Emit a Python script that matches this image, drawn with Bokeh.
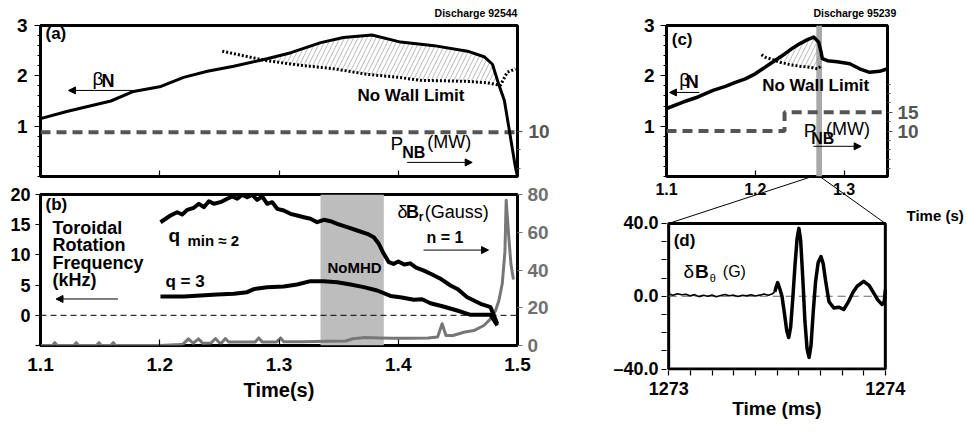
from bokeh.plotting import figure
from bokeh.models import (Range1d, LinearAxis, FixedTicker, CustomJSTickFormatter,
                          Label, Arrow, NormalHead, GridBox, Span, BoxAnnotation)
from bokeh.layouts import column
from bokeh.embed import file_html
from bokeh.resources import INLINE

FONT = "Liberation Sans"

# ---------------- data ----------------
# (a) discharge 92544
a_bn_t = [1.100, 1.122, 1.159, 1.178, 1.201, 1.220, 1.240, 1.262, 1.290, 1.310, 1.335, 1.354,
          1.378, 1.402, 1.430, 1.458, 1.472, 1.479, 1.484, 1.489, 1.4983, 1.500]
a_bn_v = [1.15, 1.29, 1.50, 1.69, 1.79, 1.97, 2.09, 2.19, 2.34, 2.46, 2.66, 2.76,
          2.81, 2.67, 2.60, 2.49, 2.38, 2.23, 1.85, 1.51, 0.18, 0.0]
a_nw_t = [1.2524, 1.270, 1.290, 1.318, 1.346, 1.374, 1.400, 1.419, 1.440, 1.458, 1.475,
          1.4857, 1.4913, 1.4983]
a_nw_v = [2.49, 2.40, 2.30, 2.21, 2.14, 2.03, 1.97, 1.91, 1.90, 1.89, 1.86, 1.81, 2.07, 2.14]
a_pnb_t = [1.100, 1.500]
a_pnb_v = [9.7, 9.7]

# (b) rotation (kHz) and dB_r (Gauss)
qmin_t = [1.2006, 1.2090, 1.2146, 1.2188, 1.2230, 1.2286, 1.2328, 1.2370, 1.2412, 1.2454,
          1.2509, 1.2566, 1.2608, 1.2650, 1.2691, 1.2733, 1.2775, 1.2817, 1.2859, 1.2901,
          1.2943, 1.2985, 1.3040, 1.3096, 1.3152, 1.3208, 1.3264, 1.3320, 1.3376, 1.3432,
          1.3488, 1.3572, 1.3656, 1.3740, 1.3795, 1.3837, 1.3879, 1.3921, 1.3960, 1.4000,
          1.4050, 1.4100, 1.4150, 1.4215, 1.4280, 1.4350, 1.4438, 1.4500, 1.4578, 1.4630,
          1.4690, 1.4774, 1.4830]
qmin_v = [15.41, 16.52, 17.07, 16.69, 17.46, 17.80, 18.46, 17.90, 18.89, 18.46,
          18.73, 19.29, 19.67, 19.29, 19.95, 19.55, 19.95, 19.12, 19.67, 18.46,
          18.73, 17.63, 17.35, 16.80, 16.52, 16.24, 15.98, 15.41, 15.81, 15.58,
          15.15, 14.59, 14.04, 13.49, 12.93, 11.84, 10.18, 8.79, 8.50, 8.90,
          8.40, 8.60, 7.90, 7.40, 6.80, 6.10, 4.93, 4.30, 3.00, 2.50,
          1.90, 1.34, -1.40]
q3_t = [1.2006, 1.2202, 1.2342, 1.2482, 1.2621, 1.2733, 1.2789, 1.2901, 1.3040, 1.3152,
        1.3264, 1.3376, 1.3488, 1.3600, 1.3711, 1.3823, 1.3935, 1.4030, 1.4130, 1.4200,
        1.4270, 1.4370, 1.4494, 1.4606, 1.4774, 1.4830]
q3_v = [3.11, 3.11, 3.28, 3.44, 3.56, 3.83, 4.33, 4.66, 4.77, 5.10,
        5.65, 5.65, 5.48, 5.10, 4.66, 4.11, 3.20, 2.95, 2.57, 2.65,
        2.00, 1.50, 0.79, 0.08, 0.08, -1.69]
dbr_t = [1.100, 1.110, 1.112, 1.114, 1.128, 1.130, 1.132, 1.147, 1.149, 1.151, 1.159, 1.161,
         1.163, 1.200, 1.218, 1.220, 1.224, 1.228, 1.2325, 1.236, 1.243, 1.2467, 1.250, 1.252,
         1.255, 1.258, 1.270, 1.280, 1.283, 1.286, 1.298, 1.3013, 1.304, 1.320, 1.340, 1.356,
         1.362, 1.372, 1.385, 1.395, 1.410, 1.425, 1.433, 1.4368, 1.440, 1.446, 1.455, 1.4634,
         1.4718, 1.4774, 1.4816, 1.4844, 1.4872, 1.4895, 1.4905, 1.4915, 1.4930, 1.4945, 1.4966]
dbr_v = [0.0, 0.0, 1.5, 0.0, 0.0, 1.5, 0.0, 0.0, 1.5, 0.0, 0.0, 1.5,
         0.0, 0.0, 0.5, 1.0, 3.5, 1.2, 3.5, 1.2, 1.3, 3.7, 1.5, 1.5,
         3.7, 1.8, 1.8, 1.8, 4.0, 1.8, 1.9, 4.0, 2.0, 2.0, 2.2, 2.4,
         3.6, 4.2, 4.0, 3.8, 3.8, 4.0, 4.5, 11.5, 5.3, 5.3, 7.0, 7.9,
         10.6, 14.1, 18.5, 23.8, 32.7, 50.0, 77.0, 68.0, 55.0, 43.0, 35.0]
nomhd_t = [1.3348, 1.3879]

# (c) discharge 95239
c_bn_t = [1.100, 1.1187, 1.1355, 1.1524, 1.1664, 1.1776, 1.1888, 1.2000, 1.2084, 1.2168,
          1.2252, 1.2336, 1.2420, 1.2504, 1.2588, 1.2658, 1.2714, 1.2742, 1.2756, 1.2813,
          1.2924, 1.3065, 1.3176, 1.3288, 1.3401, 1.349]
c_bn_v = [1.35, 1.48, 1.58, 1.71, 1.79, 1.87, 1.94, 2.04, 2.14, 2.24,
          2.34, 2.44, 2.55, 2.64, 2.72, 2.77, 2.67, 2.47, 2.34, 2.30,
          2.28, 2.24, 2.14, 2.07, 2.09, 2.14]
c_nw_t = [1.207, 1.2112, 1.2168, 1.228, 1.2392, 1.2504, 1.2616, 1.270, 1.2742]
c_nw_v = [2.42, 2.37, 2.34, 2.27, 2.22, 2.19, 2.17, 2.14, 2.19]
c_pnb_t = [1.100, 1.233, 1.233, 1.349]
c_pnb_v = [10.0, 10.0, 15.0, 15.0]
zoom_t = [1.2688, 1.2752]   # 1273-1274 ms window

# (d) dB_theta (G) vs time (ms)
d_noise_t = [1273.000, 1273.020, 1273.040, 1273.060, 1273.080, 1273.100, 1273.120, 1273.140,
             1273.160, 1273.180, 1273.200, 1273.220, 1273.240, 1273.260, 1273.280, 1273.300,
             1273.320, 1273.340, 1273.360, 1273.380, 1273.400, 1273.420, 1273.440, 1273.460,
             1273.480, 1273.490]
d_noise_v = [1.3, 0.6, 1.4, 0.8, 1.1, 0.2, 0.9, -0.2, 0.5, 0.0, 0.7, -0.3, 0.4, 1.0, 0.3,
             0.6, -0.1, 0.5, 0.2, 0.8, 0.1, 0.6, 1.2, 0.5, 1.4, 2.5]
d_osc_t = [1273.490, 1273.497, 1273.503, 1273.512, 1273.523, 1273.535, 1273.545, 1273.554,
           1273.563, 1273.573, 1273.583, 1273.593, 1273.601, 1273.609, 1273.619, 1273.629,
           1273.639, 1273.648, 1273.657, 1273.667, 1273.678, 1273.690, 1273.703, 1273.713,
           1273.725, 1273.740, 1273.762, 1273.785, 1273.808, 1273.830, 1273.850, 1273.870,
           1273.900, 1273.925, 1273.946, 1273.965, 1273.985, 1273.995, 1274.000]
d_osc_v = [2.5, 5.5, 7.5, 4.5, 0.0, -10.0, -19.0, -22.7, -17.0, -1.0, 17.0, 32.0, 37.3, 31.0,
           10.0, -14.0, -29.0, -33.6, -27.0, -9.0, 8.0, 18.5, 21.8, 18.0, 8.0, -3.0, -6.4,
           -6.0, -7.3, -3.0, 2.0, 5.5, 8.2, 6.0, 1.8, -2.0, -4.5, -3.0, 3.6]

# axis ranges / ticks
T_RANGE = (1.1, 1.5)
C_T_RANGE = (1.1, 1.349)
BETA_RANGE = (0, 3)
PNB_RANGE = (-2.1, 38.06)
ROT_RANGE = (-5, 20)
DBR_RANGE = (0, 80)
D_T_RANGE = (1272.99, 1274.01)
D_Y_RANGE = (-40.8, 65.8)
D_T0, D_T1 = 1273.0, 1274.0
D_Y0, D_Y1 = -40.0, 40.0
beta_ticks = [1, 2, 3]
beta_minor = [0, 0.2, 0.4, 0.6, 0.8, 1.2, 1.4, 1.6, 1.8, 2.2, 2.4, 2.6, 2.8]
a_x_minor = [1.2, 1.3, 1.4]
rot_ticks = [0, 5, 10, 15, 20]
rot_minor = [-5]
dbr_ticks = [0, 20, 40, 60, 80]
d_y_ticks = [-40, 0, 40]
d_y_minor = [-30, -20, -10, 10, 20, 30]
d_x_ticks = [1273, 1274]
d_x_minor = [1273.1, 1273.2, 1273.3, 1273.4, 1273.5, 1273.6, 1273.7, 1273.8, 1273.9]
TS_Y = 44.4          # height of the "Time (s)" caption of (c), on the (d) scale
A_TAG_T = 1.4652     # centre of "Discharge 92544"
C_TAG_T = 1.3122     # centre of "Discharge 95239"


# ---------------- helpers ----------------
def make_fig(width, height, x_range, y_range, ml, mr, mt, mb, outline=True):
    p = figure(width=width, height=height, x_range=x_range, y_range=y_range,
               output_backend="svg", toolbar_location=None,
               min_border_left=ml, min_border_right=mr,
               min_border_top=mt, min_border_bottom=mb)
    p.grid.visible = False
    p.outline_line_color = "black" if outline else None
    p.outline_line_width = 3
    p.background_fill_color = None
    p.border_fill_color = None
    return p


def style_axis(ax, size="16px", color="black", tick_in=0, tick_out=5,
               minor_in=0, minor_out=3, standoff=5):
    ax.axis_line_color = None
    ax.major_label_text_font = FONT
    ax.major_label_text_font_size = size
    ax.major_label_text_font_style = "bold"
    ax.major_label_text_color = color
    ax.major_tick_line_color = color
    ax.minor_tick_line_color = color
    ax.major_tick_line_width = 1.2
    ax.minor_tick_line_width = 1.2
    ax.major_tick_in = tick_in
    ax.major_tick_out = tick_out
    ax.minor_tick_in = minor_in
    ax.minor_tick_out = minor_out
    ax.major_label_standoff = standoff
    ax.axis_label_text_font = FONT
    ax.axis_label_text_font_style = "bold"
    ax.axis_label_text_color = "black"


def caption_axis(p, where, tick, text, size, standoff):
    a = LinearAxis(ticker=FixedTicker(ticks=[tick]),
                   formatter=CustomJSTickFormatter(code="return %r;" % text))
    style_axis(a, size=size, tick_out=0, minor_out=0, standoff=standoff)
    a.major_tick_line_color = None
    a.minor_tick_line_color = None
    p.add_layout(a, where)


def lab(p, x, y, text, size=16, bold=False, color="black", align="left", rng="default"):
    p.add_layout(Label(x=x, y=y, text=text, y_range_name=rng,
                       text_font=FONT, text_font_size=f"{size}px",
                       text_font_style="bold" if bold else "normal",
                       text_color=color, text_align=align, text_baseline="middle"))


def arr(p, x0, x1, y, rng="default"):
    p.add_layout(Arrow(end=NormalHead(size=7, fill_color="black", line_color="black", line_width=1),
                       x_start=x0, y_start=y, x_end=x1, y_end=y, line_width=1,
                       line_color="black", y_range_name=rng))


def hatch_poly(bt, bv, lt, lv, lo, hi):
    top = [(t, v) for t, v in zip(bt, bv) if lo <= t <= hi]
    bot = [(t, v) for t, v in zip(lt, lv) if lo <= t <= hi][::-1]
    pts = top + bot
    return [q[0] for q in pts], [q[1] for q in pts]


# ---------------- (a) ----------------
fa = make_fig(560, 185, T_RANGE, BETA_RANGE, ml=40, mr=43, mt=25, mb=9)
fa.extra_y_ranges = {"pnb": Range1d(*PNB_RANGE)}
ax = fa.below[0]
style_axis(ax, size="14px", tick_in=6, tick_out=0, minor_in=6, minor_out=0, standoff=0)
ax.ticker = FixedTicker(ticks=[], minor_ticks=a_x_minor)
ay = fa.left[0]
style_axis(ay, size="19px", tick_out=6, minor_out=3, standoff=7)
ay.ticker = FixedTicker(ticks=beta_ticks, minor_ticks=beta_minor)
ra = LinearAxis(y_range_name="pnb", ticker=FixedTicker(ticks=[10], minor_ticks=[0, 5]))
style_axis(ra, size="19px", color="#555555", tick_out=5, minor_out=3, standoff=6)
fa.add_layout(ra, "right")
caption_axis(fa, "above", A_TAG_T, "Discharge 92544", "10.5px", 7)

hx, hy = hatch_poly(a_bn_t, a_bn_v, a_nw_t, a_nw_v, 1.288, 1.4858)
fa.patch(hx, hy, fill_color=None, line_color=None, hatch_pattern="/",
         hatch_color="#8a8a8a", hatch_weight=0.6, hatch_scale=9)
fa.line(a_pnb_t, a_pnb_v, y_range_name="pnb", line_color="#555555", line_width=4,
        line_dash="10 6")
fa.line(a_nw_t, a_nw_v, line_color="black", line_width=3, line_dash="2 2")
fa.line(a_bn_t, a_bn_v, line_color="black", line_width=3, line_join="round")

lab(fa, 1.1042, 2.84, "(a)", size=17, bold=True)
lab(fa, 1.1436, 1.95, "β", size=19)
lab(fa, 1.1512, 1.89, "N", size=18, bold=True)
arr(fa, 1.1772, 1.1235, 1.71)
lab(fa, 1.3658, 1.61, "No Wall Limit", size=17, bold=True)
lab(fa, 1.3935, 0.65, "P", size=19)
lab(fa, 1.4033, 0.48, "NB", size=16, bold=True)
lab(fa, 1.4244, 0.68, "(MW)", size=18)
arr(fa, 1.4075, 1.4620, 0.28)

# ---------------- (b) ----------------
fb = make_fig(560, 236, T_RANGE, ROT_RANGE, ml=40, mr=43, mt=9, mb=76)
fb.extra_y_ranges = {"dbr": Range1d(*DBR_RANGE)}
bx = fb.below[0]
style_axis(bx, size="19px", tick_in=6, tick_out=0, standoff=12)
bx.ticker = FixedTicker(ticks=[1.1, 1.2, 1.3, 1.4, 1.5])
bx.axis_label = "Time(s)"
bx.axis_label_text_font_size = "20px"
bx.axis_label_standoff = 5
by = fb.left[0]
style_axis(by, size="18px", tick_out=5, minor_out=5, standoff=5)
by.ticker = FixedTicker(ticks=rot_ticks, minor_ticks=rot_minor)
rb = LinearAxis(y_range_name="dbr", ticker=FixedTicker(ticks=dbr_ticks))
style_axis(rb, size="19px", color="#707070", tick_out=5, standoff=5)
fb.add_layout(rb, "right")

fb.add_layout(BoxAnnotation(left=nomhd_t[0], right=nomhd_t[1], fill_color="#bdbdbd",
                            fill_alpha=1.0, line_color=None, level="underlay"))
fb.add_layout(Span(location=0, dimension="width", line_color="black", line_width=1,
                   line_dash="6 4"))
fb.line(dbr_t, dbr_v, y_range_name="dbr", line_color="#777777", line_width=3,
        line_join="round")
fb.line(qmin_t, qmin_v, line_color="black", line_width=4, line_join="round")
fb.line(q3_t, q3_v, line_color="black", line_width=4, line_join="round")

lab(fb, 1.1042, 18.34, "(b)", size=17, bold=True)
lab(fb, 1.1101, 14.40, "Toroidal", size=18, bold=True)
lab(fb, 1.1101, 11.56, "Rotation", size=18, bold=True)
lab(fb, 1.1101, 8.73, "Frequency", size=18, bold=True)
lab(fb, 1.1101, 5.89, "(kHz)", size=18, bold=True)
arr(fb, 1.165, 1.113, 2.70)
lab(fb, 1.2073, 13.2, "q", size=19, bold=True)
lab(fb, 1.2233, 12.38, "min ≈ 2", size=15, bold=True)
lab(fb, 1.2048, 5.6, "q = 3", size=17, bold=True)
lab(fb, 1.3633, 7.97, "NoMHD", size=15, bold=True, align="center")
lab(fb, 1.3994, 17.07, "δ", size=18)
lab(fb, 1.4066, 17.07, "B", size=18, bold=True)
lab(fb, 1.4171, 16.2, "r", size=12, bold=True)
lab(fb, 1.4222, 17.07, "(Gauss)", size=18)
lab(fb, 1.4237, 12.8, "n = 1", size=16, bold=True)
arr(fb, 1.4212, 1.4757, 10.8)

# ---------------- (c) ----------------
fc = make_fig(407, 202, C_T_RANGE, BETA_RANGE, ml=51, mr=60, mt=25, mb=26)
fc.extra_y_ranges = {"pnb": Range1d(*PNB_RANGE)}
cx = fc.below[0]
style_axis(cx, size="16px", tick_in=6, tick_out=0, standoff=6)
cx.ticker = FixedTicker(ticks=[1.1, 1.2, 1.3])
cy = fc.left[0]
style_axis(cy, size="19px", tick_out=6, minor_out=3, standoff=6)
cy.ticker = FixedTicker(ticks=beta_ticks, minor_ticks=beta_minor)
rc = LinearAxis(y_range_name="pnb",
                ticker=FixedTicker(ticks=[10, 15],
                                   minor_ticks=[0, 2.5, 5, 7.5, 12.5, 17.5, 20, 22.5]))
style_axis(rc, size="19px", color="#555555", tick_out=5, minor_out=3, standoff=5)
fc.add_layout(rc, "right")
caption_axis(fc, "above", C_TAG_T, "Discharge 95239", "10.5px", 7)

fc.add_layout(BoxAnnotation(left=zoom_t[0], right=zoom_t[1], fill_color="#a9a9a9",
                            fill_alpha=1.0, line_color=None, level="underlay"))
hx, hy = hatch_poly(c_bn_t, c_bn_v, c_nw_t, c_nw_v, 1.2210, 1.2745)
fc.patch(hx, hy, fill_color=None, line_color=None, hatch_pattern="/",
         hatch_color="#8a8a8a", hatch_weight=0.6, hatch_scale=9)
fc.line(c_pnb_t, c_pnb_v, y_range_name="pnb", line_color="#555555", line_width=4,
        line_dash="10 6")
fc.line(c_nw_t, c_nw_v, line_color="black", line_width=3, line_dash="2 2")
fc.line(c_bn_t, c_bn_v, line_color="black", line_width=3.5, line_join="round")

lab(fc, 1.1059, 2.72, "(c)", size=17, bold=True)
lab(fc, 1.1143, 1.93, "β", size=19)
lab(fc, 1.1218, 1.88, "N", size=18, bold=True)
arr(fc, 1.137, 1.1034, 1.67)
lab(fc, 1.2078, 1.81, "No Wall Limit", size=17, bold=True)
lab(fc, 1.2546, 0.91, "P", size=19)
lab(fc, 1.2630, 0.76, "NB", size=16, bold=True)
lab(fc, 1.2798, 0.95, "(MW)", size=18)
arr(fc, 1.2655, 1.3193, 0.60)

# ---------------- (d) ----------------
D_FIG_H = 251
D_ML, D_W, D_MT, D_H = 106, 221, 0, 194
fd = make_fig(407, D_FIG_H, D_T_RANGE, D_Y_RANGE, ml=D_ML, mr=407 - D_ML - D_W, mt=D_MT,
              mb=D_FIG_H - D_MT - D_H, outline=False)
dx = fd.below[0]
style_axis(dx, size="18px", tick_in=0, tick_out=5, minor_in=0, minor_out=5, standoff=6)
dx.ticker = FixedTicker(ticks=d_x_ticks, minor_ticks=d_x_minor)
dx.bounds = (D_T0, D_T1)
dx.axis_label = "Time (ms)"
dx.axis_label_text_font_size = "19px"
dx.axis_label_standoff = 0
dy = fd.left[0]
style_axis(dy, size="18px", tick_out=5, minor_out=5, standoff=3)
dy.ticker = FixedTicker(ticks=d_y_ticks, minor_ticks=d_y_minor)
dy.bounds = (D_Y0, D_Y1)
dy.formatter = CustomJSTickFormatter(
    code="return (tick < 0 ? '\u2013' : '') + Math.abs(tick).toFixed(1);")
# caption of the (c) time axis, drawn at the right of (d)
caption_axis(fd, "right", TS_Y, "Time (s)", "15px", 19)

fd.quad(left=[D_T0], right=[D_T1], bottom=[D_Y0], top=[D_Y1], fill_color=None,
        line_color="black", line_width=3)
fd.line([D_T0, D_T1], [0, 0], line_color="#666666", line_width=1.2, line_dash="8 5")
fd.line(d_noise_t, d_noise_v, line_color="black", line_width=1.6)
fd.line(d_osc_t, d_osc_v, line_color="black", line_width=3.5, line_join="round")

# zoom connector: from the grey window at the bottom of (c) to the corners of (d)
C_PX0, C_W = 560 + 51.0, 296.0     # page px of (c) frame
D_PX0 = 560 + D_ML                  # page px of (d) frame


def c_to_px(t):
    return C_PX0 + (t - C_T_RANGE[0]) / (C_T_RANGE[1] - C_T_RANGE[0]) * C_W


def px_to_d(px):
    return D_T_RANGE[0] + (px - D_PX0) / D_W * (D_T_RANGE[1] - D_T_RANGE[0])


fd.line([px_to_d(c_to_px(zoom_t[0])), D_T0], [D_Y_RANGE[1], D_Y1], line_color="black",
        line_width=1)
fd.line([px_to_d(c_to_px(zoom_t[1])), D_T1], [D_Y_RANGE[1], D_Y1], line_color="black",
        line_width=1)

lab(fd, 1273.023, 30.7, "(d)", size=17, bold=True)
lab(fd, 1273.069, 13.5, "δ", size=19)
lab(fd, 1273.122, 13.5, "B", size=19, bold=True)
lab(fd, 1273.190, 10.3, "θ", size=11)
lab(fd, 1273.250, 13.5, "(G)", size=16)

# ---------------- layout ----------------
left = column(fa, fb)
grid = GridBox(children=[(left, 0, 0, 3, 1), (fc, 0, 1, 2, 1), (fd, 1, 1, 2, 1)],
               rows=["176px", "26px", "225px"], cols=["560px", "407px"])

open("out.html", "w").write(file_html(grid, INLINE))
